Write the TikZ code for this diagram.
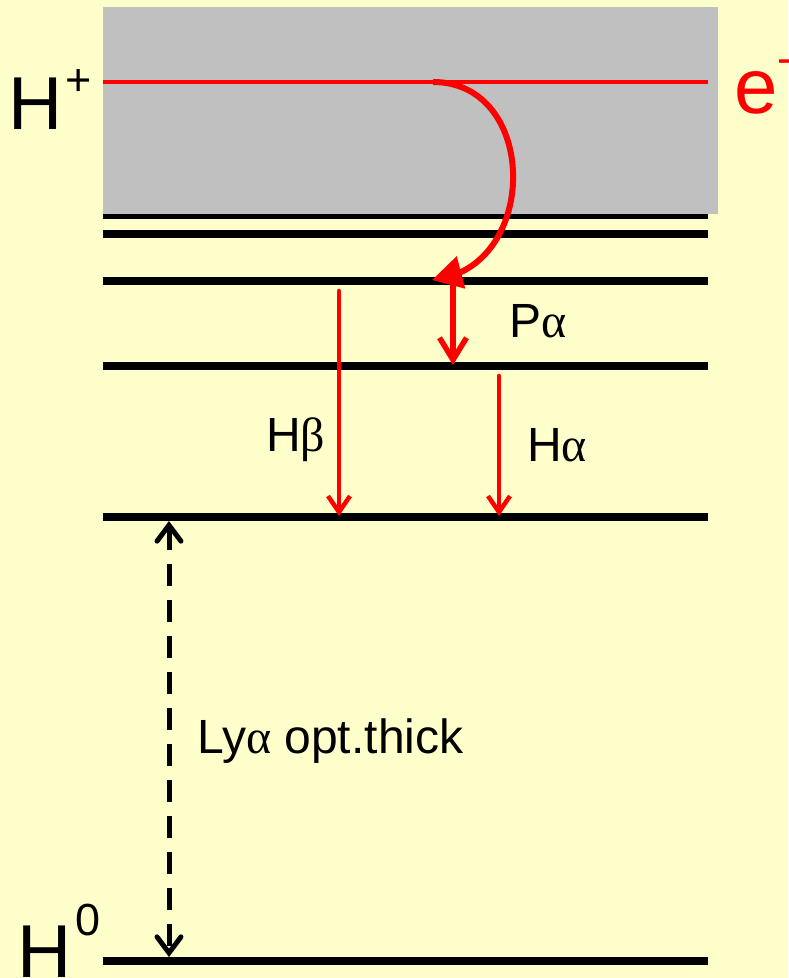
\documentclass[tikz,border=0pt]{standalone}
\usepackage{fontspec}
\setmainfont{Liberation Sans}
\newfontfamily\grk{Liberation Serif}
\usetikzlibrary{arrows.meta,bending}

\definecolor{bgyellow}{HTML}{FFFFCC}
\definecolor{contgray}{HTML}{C0C0C0}

\newcommand{\gr}[1]{{\grk #1}}
\newcommand{\supr}[3]{\kern#1\raisebox{#2}{\fontsize{45}{45}\selectfont #3}}

\tikzset{
  level/.style={line width=8pt},
  lbl/.style={inner sep=0pt, anchor=base west, font=\fontsize{48}{48}\selectfont},
  big/.style={inner sep=0pt, anchor=base west, font=\fontsize{75}{75}\selectfont},
  trans/.style={red, line width=4.5pt, line cap=round, -{Straight Barb[length=16pt,width=22pt]}}
}

\begin{document}
\begin{tikzpicture}[x=1pt, y=-1pt, >=Stealth, line join=round]
  \fill[bgyellow] (0,0) rectangle (788,978);
  \clip (0,0) rectangle (788,978);

  % energy levels
  \foreach \y in {215,234,281,366,517,961}
    \draw[level] (103,\y) -- (708,\y);

  % continuum
  \fill[contgray] (103,7) rectangle (718,214);
  \draw[red, line width=4.5pt] (103,82) -- (708,82);

  \node[big] (hplus) at (8,129) {H\supr{3pt}{34pt}{+}};
  \node[big, font=\fontsize{78}{78}\selectfont, red] (elec) at (734,113) {e\supr{0pt}{40pt}{-}};
  \node[big] (hzero) at (17,977) {H\supr{4pt}{42pt}{0}};

  % recombination
  \coordinate (capt) at (433,82);
  \coordinate (nfour) at (432,280);
  \draw[red, line width=6pt, -{Triangle[length=30pt,width=32pt,flex]}]
    (capt) .. controls (540,82) and (540,270) .. (nfour);

  % cascade
  \coordinate (pa1) at (453,283);
  \coordinate (pa2) at (453,365);
  \draw[red, line width=5.5pt, line cap=round, -{Straight Barb[length=22pt,width=27pt]}] (pa1) -- (pa2);
  \node[lbl] (palpha) at (509,337) {P\gr{α}};

  \coordinate (hb1) at (339,291);
  \coordinate (hb2) at (339,516);
  \draw[trans] (hb1) -- (hb2);
  \node[lbl] (hbeta) at (266,451) {H\gr{β}};

  \coordinate (ha1) at (499,376);
  \coordinate (ha2) at (499,516);
  \draw[trans] (ha1) -- (ha2);
  \node[lbl] (halpha) at (527,461) {H\gr{α}};

  % Ly alpha
  \coordinate (ly1) at (169,521);
  \coordinate (ly2) at (169,957);
  \draw[line width=5pt, dash pattern=on 22pt off 14pt,
    {Straight Barb[length=16pt,width=24pt,line cap=round]}-{Straight Barb[length=16pt,width=24pt,line cap=round]}] (ly1) -- (ly2);
  \node[lbl] (lya) at (197,753) {Ly\gr{α} opt.thick};
\end{tikzpicture}
\end{document}
